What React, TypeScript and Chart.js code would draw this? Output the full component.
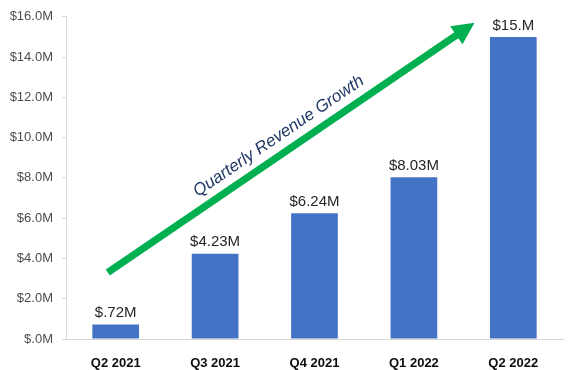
import React, { useEffect, useRef } from "react";
import { Chart, registerables } from "chart.js";

Chart.register(...registerables);

const categories = ["Q2 2021", "Q3 2021", "Q4 2021", "Q1 2022", "Q2 2022"];
const revenue = [0.72, 4.23, 6.24, 8.03, 15.0];
const valueLabels = ["$.72M", "$4.23M", "$6.24M", "$8.03M", "$15.M"];
const yTickValues = [0, 2, 4, 6, 8, 10, 12, 14, 16];
const yTickLabels = ["$.0M", "$2.0M", "$4.0M", "$6.0M", "$8.0M", "$10.0M", "$12.0M", "$14.0M", "$16.0M"];
// arrow annotation in data coordinates: [categoryIndex, value]
const arrowStart = [-0.08, 3.3];
const arrowEnd = [3.61, 15.7];
const arrowText = "Quarterly Revenue Growth";
const arrowTextAt = [1.64, 10.07];

const overlayPlugin = {
  id: "overlay",
  afterDatasetsDraw(chart: any) {
    const ctx = chart.ctx;
    const x = chart.scales.x;
    const y = chart.scales.y;
    const meta = chart.getDatasetMeta(0);
    ctx.save();
    // value labels
    ctx.font = "15px 'Liberation Sans', Arial, sans-serif";
    ctx.fillStyle = "#262626";
    ctx.textAlign = "center";
    ctx.textBaseline = "bottom";
    meta.data.forEach((bar: any, i: number) => {
      ctx.fillText(valueLabels[i], bar.x, bar.y - 4);
    });
    // arrow
    const x0 = x.getPixelForValue(arrowStart[0]);
    const y0 = y.getPixelForValue(arrowStart[1]);
    const x1 = x.getPixelForValue(arrowEnd[0]);
    const y1 = y.getPixelForValue(arrowEnd[1]);
    const ang = Math.atan2(y1 - y0, x1 - x0);
    const len = Math.hypot(x1 - x0, y1 - y0);
    const headLen = 22;
    const headHalf = 11;
    const shaftHalf = 3.6;
    ctx.translate(x0, y0);
    ctx.rotate(ang);
    ctx.fillStyle = "#00B050";
    ctx.beginPath();
    ctx.moveTo(0, -shaftHalf);
    ctx.lineTo(len - headLen, -shaftHalf);
    ctx.lineTo(len - headLen, -headHalf);
    ctx.lineTo(len, 0);
    ctx.lineTo(len - headLen, headHalf);
    ctx.lineTo(len - headLen, shaftHalf);
    ctx.lineTo(0, shaftHalf);
    ctx.closePath();
    ctx.fill();
    ctx.setTransform(1, 0, 0, 1, 0, 0);
    // arrow text
    const tx = x.getPixelForValue(arrowTextAt[0]);
    const ty = y.getPixelForValue(arrowTextAt[1]);
    ctx.translate(tx, ty);
    ctx.rotate(ang);
    ctx.font = "italic 17px 'Liberation Sans', Arial, sans-serif";
    ctx.fillStyle = "#1F3864";
    ctx.textAlign = "center";
    ctx.textBaseline = "middle";
    ctx.fillText(arrowText, 0, 0);
    ctx.restore();
  },
};

export default function App() {
  const ref = useRef<HTMLCanvasElement>(null);
  useEffect(() => {
    document.body.style.margin = "0";
    const chart = new Chart(ref.current as HTMLCanvasElement, {
      type: "bar",
      data: {
        labels: categories,
        datasets: [
          {
            data: revenue,
            backgroundColor: "#4472C4",
            categoryPercentage: 1,
            barPercentage: 0.47,
          },
        ],
      },
      options: {
        animation: false,
        responsive: false,
        layout: { padding: { top: 15, right: 12, left: 0, bottom: 0 } },
        plugins: { legend: { display: false }, tooltip: { enabled: false } },
        scales: {
          x: {
            grid: { display: false, drawOnChartArea: false },
            border: { display: true, color: "#D9D9D9", width: 1 },
            ticks: {
              color: "#0D0D0D",
              font: { family: "'Liberation Sans', Arial, sans-serif", size: 13, weight: "bold" },
              padding: 9,
            },
            afterFit(s: any) {
              s.height = 31;
            },
          },
          y: {
            min: 0,
            max: 16,
            afterBuildTicks(s: any) {
              s.ticks = yTickValues.map((v) => ({ value: v }));
            },
            grid: { drawOnChartArea: false, tickLength: 4, color: "#D9D9D9" },
            border: { display: true, color: "#D9D9D9", width: 1 },
            ticks: {
              color: "#4D4D4D",
              font: { family: "'Liberation Sans', Arial, sans-serif", size: 13 },
              padding: 9,
              callback: (v: any) => yTickLabels[yTickValues.indexOf(Number(v))] ?? "",
            },
            afterFit(s: any) {
              s.width = 66;
            },
          },
        },
      },
      plugins: [overlayPlugin],
    });
    return () => chart.destroy();
  }, []);
  return <canvas ref={ref} width={575} height={370} />;
}
